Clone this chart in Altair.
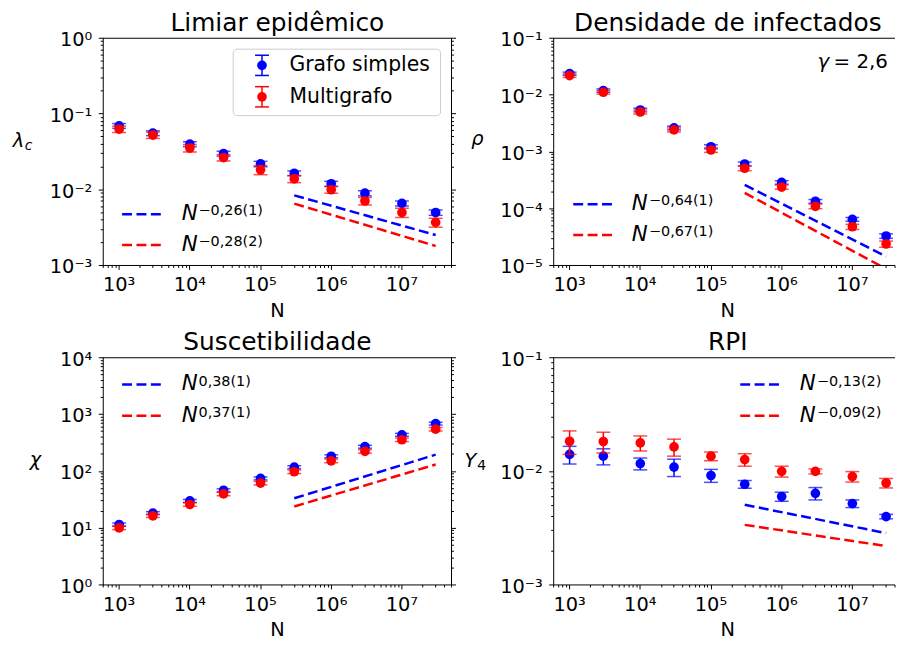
import math
import altair as alt
import pandas as pd

FONT = "DejaVu Sans"
BLUE = "#0000ff"
RED = "#ff0000"

# ---------------- data ----------------
N_values = [1e3, 3e3, 1e4, 3e4, 1e5, 3e5, 1e6, 3e6, 1e7, 3e7]
fit_N = [3e5, 3e7]

# Limiar epidêmico (lambda_c)
lam_simple = [0.0697, 0.0558, 0.0400, 0.0300, 0.0219, 0.0165, 0.0120, 0.0090, 0.0066, 0.0050]
lam_simple_err = [0.005, 0.004, 0.003, 0.0022, 0.0018, 0.0012, 0.0009, 0.0007, 0.0005, 0.0004]
lam_multi = [0.0630, 0.0526, 0.0355, 0.0265, 0.0183, 0.0139, 0.0100, 0.0071, 0.0050, 0.0037]
lam_multi_err = [0.006, 0.005, 0.004, 0.0025, 0.0025, 0.0015, 0.001, 0.0008, 0.0007, 0.0005]
lam_fit_simple = [0.00843, 0.00252]
lam_fit_multi = [0.00655, 0.00181]

# Densidade de infectados (rho)
rho_simple = [0.0238, 0.0120, 0.00546, 0.00264, 0.00123, 0.000612, 0.00029, 0.000135, 6.5e-5, 3.3e-5]
rho_simple_err = [0.0015, 0.0008, 0.0004, 0.0002, 0.0001, 0.00005, 0.00002, 0.00001, 5e-6, 3e-6]
rho_multi = [0.0220, 0.0112, 0.00504, 0.00244, 0.00108, 0.000515, 0.00024, 0.00011, 4.8e-5, 2.39e-5]
rho_multi_err = [0.0015, 0.0008, 0.0004, 0.0002, 0.0001, 0.00005, 0.00002, 0.00001, 5e-6, 3e-6]
rho_fit_simple = [2.63e-4, 1.44e-5]
rho_fit_multi = [1.9e-4, 8.7e-6]

# Suscetibilidade (chi)
chi_simple = [11.6, 18.4, 30.2, 46.4, 75.2, 118.5, 184.5, 272, 440, 693]
chi_simple_err = [0.7, 1.1, 1.8, 2.8, 4.5, 7, 11, 16, 26, 40]
chi_multi = [10.1, 16.5, 26.1, 40.0, 62.2, 98.4, 153, 225, 360, 553]
chi_multi_err = [0.7, 1.1, 1.8, 2.8, 4.5, 7, 11, 16, 26, 40]
chi_fit_simple = [33.6, 197]
chi_fit_multi = [24.1, 132]

# RPI (Y_4)
y4_simple = [0.0141, 0.0136, 0.0117, 0.0109, 0.0092, 0.0077, 0.0060, 0.0064, 0.0052, 0.0040]
y4_simple_err = [0.0025, 0.0022, 0.0014, 0.0019, 0.0012, 0.0006, 0.00055, 0.0008, 0.0004, 0.00018]
y4_multi = [0.0184, 0.0183, 0.0178, 0.0164, 0.0136, 0.0127, 0.0100, 0.0100, 0.0090, 0.0079]
y4_multi_err = [0.0043, 0.0038, 0.0027, 0.0028, 0.0012, 0.0016, 0.0011, 0.0005, 0.00095, 0.00076]
y4_fit_simple = [0.00508, 0.00286]
y4_fit_multi = [0.00338, 0.0022]

titles = ["Limiar epidêmico", "Densidade de infectados", "Suscetibilidade", "RPI"]
legend_series = ["Grafo simples", "Multigrafo"]
fit_labels = [("−0,26(1)", "−0,28(2)"), ("−0,64(1)", "−0,67(1)"),
              ("0,38(1)", "0,37(1)"), ("−0,13(2)", "−0,09(2)")]
gamma_text = "= 2,6"

# ---------------- helpers ----------------
SUP = str.maketrans("0123456789-", "⁰¹²³⁴⁵⁶⁷⁸⁹⁻")
one = pd.DataFrame({"k": [0]})
H = 229
XLO = 2.775
PX_PER_DEC = 351 / (7.7014 - XLO)


def pow_expr(exps):
    parts = [f"round(log(datum.value)/LN10) == {e} ? '10{str(e).translate(SUP)}'" for e in exps]
    return " : ".join(parts) + " : ''"


def minors(lo, hi):
    out = []
    for k in range(lo - 1, hi + 1):
        for m in range(2, 10):
            v = m * 10.0 ** k
            lv = math.log10(v)
            if lo - 1e-9 <= lv <= hi + 1e-9:
                out.append(v)
    return out


def txt(text, x, y, size, italic=False, align="left", baseline="alphabetic", color="black"):
    return alt.Chart(one).mark_text(
        text=text, font=FONT, fontSize=size, fontStyle="italic" if italic else "normal",
        align=align, baseline=baseline, color=color
    ).encode(x=alt.value(x), y=alt.value(y))


def hrule(x1, x2, y, color, dash=None, width=2.5):
    kw = dict(color=color, strokeWidth=width)
    if dash:
        kw["strokeDash"] = dash
    return alt.Chart(one).mark_rule(**kw).encode(x=alt.value(x1), x2=alt.value(x2), y=alt.value(y))


def vrule(x, y1, y2, color, width=1.5):
    return alt.Chart(one).mark_rule(color=color, strokeWidth=width).encode(
        x=alt.value(x), y=alt.value(y1), y2=alt.value(y2))


def make_panel(idx, simple, s_err, multi, m_err, fit_s, fit_m, ylo, yhi, width, extra):
    left_col = idx % 2 == 0
    xhi = XLO + width / PX_PER_DEC
    xs = alt.Scale(type="log", domain=[10 ** XLO, 10 ** xhi], nice=False)
    ys = alt.Scale(type="log", domain=[10.0 ** ylo, 10.0 ** yhi], nice=False)
    xmaj = [10.0 ** k for k in range(3, 8)]
    xmin = [v for v in minors(2, 8) if XLO <= math.log10(v) <= xhi]
    ymaj = [10.0 ** k for k in range(ylo, yhi + 1)]
    ymin = minors(ylo, yhi)

    common = dict(domain=False, grid=False, title=None, tickColor="black", tickWidth=1,
                  translate=0)
    ax_x_major = alt.Axis(values=xmaj, labelExpr=pow_expr(range(3, 8)), orient="bottom",
                          tickSize=4.5, labelPadding=6.5, labelFontSize=19.5, labelFont=FONT,
                          labelColor="black", labelOverlap=False, labelFlush=False,
                          labelBound=False, **common)
    ax_x_minor = alt.Axis(values=xmin, labels=False, orient="bottom", tickSize=2.5, **common)
    ax_y_major = alt.Axis(values=ymaj, labelExpr=pow_expr(range(ylo, yhi + 1)), orient="left",
                          tickSize=4.5, labelPadding=6.5, labelFontSize=19.5, labelFont=FONT,
                          labelColor="black", labelOverlap=False, labelFlush=False,
                          labelBound=False, labelOffset=2, **common)
    ax_y_minor = alt.Axis(values=ymin, labels=False, orient="left", tickSize=2.5, **common)
    ax_y_major_r = alt.Axis(values=ymaj, labels=False, orient="right", tickSize=4.5, **common)
    ax_y_minor_r = alt.Axis(values=ymin, labels=False, orient="right", tickSize=2.5, **common)

    def frame(vals, errs):
        return pd.DataFrame({"N": N_values, "v": vals,
                             "lo": [v - e for v, e in zip(vals, errs)],
                             "hi": [v + e for v, e in zip(vals, errs)]})

    df_s = frame(simple, s_err)
    df_m = frame(multi, m_err)
    layers = []
    for df, color, first in [(df_s, BLUE, True), (df_m, RED, False)]:
        b = alt.Chart(df)
        layers.append(b.mark_rule(color=color, strokeWidth=1.5).encode(
            x=alt.X("N:Q", scale=xs, axis=ax_x_major if first else None),
            y=alt.Y("lo:Q", scale=ys, axis=ax_y_major if first else None), y2="hi:Q"))
        layers.append(b.mark_tick(color=color, orient="horizontal", size=14, thickness=1.5).encode(
            x=alt.X("N:Q", scale=xs, axis=ax_x_minor if first else None),
            y=alt.Y("lo:Q", scale=ys, axis=ax_y_minor if first else None)))
        layers.append(b.mark_tick(color=color, orient="horizontal", size=14, thickness=1.5).encode(
            x=alt.X("N:Q", scale=xs, axis=None),
            y=alt.Y("hi:Q", scale=ys, axis=(ax_y_major_r if first and left_col else None))))
        layers.append(b.mark_circle(color=color, size=95, opacity=1).encode(
            x=alt.X("N:Q", scale=xs, axis=None),
            y=alt.Y("v:Q", scale=ys, axis=(ax_y_minor_r if first and left_col else None))))
    for vals, color in [(fit_s, BLUE), (fit_m, RED)]:
        layers.append(alt.Chart(pd.DataFrame({"N": fit_N, "v": vals})).mark_line(
            color=color, strokeDash=[10, 4.5], strokeWidth=2.5, clip=True).encode(
            x=alt.X("N:Q", scale=xs, axis=None), y=alt.Y("v:Q", scale=ys, axis=None)))
    # spines (right one only where it is visible)
    layers.append(hrule(-0.5, width + (0.5 if left_col else 0), 0, "black", width=1))
    layers.append(hrule(-0.5, width + (0.5 if left_col else 0), H, "black", width=1))
    layers.append(vrule(0, 0, H, "black", width=1))
    if left_col:
        layers.append(vrule(width, 0, H, "black", width=1))
    # title and x axis label
    layers.append(txt(titles[idx], 175.5, -7.5, 25, align="center"))
    layers.append(txt("N", 175.5, H + 51.5, 19.5, align="center"))
    layers.extend(extra)
    return alt.layer(*layers).resolve_axis(x="independent", y="independent").properties(
        width=width, height=H)


def fit_legend(x0, y1, y2, labels, nx, supx, n_dy=6, sup_dy=1):
    out = []
    for y, color, lab in [(y1, BLUE, labels[0]), (y2, RED, labels[1])]:
        out.append(hrule(x0, x0 + 40, y, color, dash=[10, 4.5]))
        out.append(txt("N", nx, y + n_dy, 21.5, italic=True))
        out.append(txt(lab, supx, y + sup_dy, 14.5))
    return out


# panel 1 extras: anchor (fixes the page offset), legend box, series legend, fit legend, y label
extra1 = [
    alt.Chart(one).mark_rule(color="white", strokeWidth=1).encode(
        x=alt.value(-95.5), x2=alt.value(-94.5), y=alt.value(-26.5)),
    alt.Chart(one).mark_rect(cornerRadius=4, fill="white", fillOpacity=0.8,
                             stroke="#cccccc", strokeWidth=1).encode(
        x=alt.value(131), x2=alt.value(340), y=alt.value(11), y2=alt.value(78)),
]
for yc, color, lab in [(27.3, BLUE, legend_series[0]), (59, RED, legend_series[1])]:
    extra1 += [
        vrule(160, yc - 10.2, yc + 10.2, color),
        hrule(153, 167, yc - 10.2, color, width=1.5),
        hrule(153, 167, yc + 10.2, color, width=1.5),
        alt.Chart(one).mark_circle(color=color, size=95, opacity=1).encode(
            x=alt.value(160), y=alt.value(yc)),
        txt(lab, 187.7, yc, 20.5, baseline="middle"),
    ]
extra1 += fit_legend(19, 177.3, 208.3, fit_labels[0], 79, 96)
extra1 += [txt("λ", -91.3, 110, 19.5, italic=True), txt("c", -79, 112.7, 14, italic=True)]

extra2 = fit_legend(19.7, 167.3, 198.3, fit_labels[1], 78.7, 96)
extra2 += [txt("ρ", -83, 108, 19.5, italic=True),
           txt("γ", 266, 30, 20, italic=True), txt(gamma_text, 282, 30, 20)]

extra3 = fit_legend(19, 27, 58.4, fit_labels[2], 79, 96)
extra3 += [txt("χ", -74, 109, 19.5, italic=True)]

extra4 = fit_legend(188, 27, 58.4, fit_labels[3], 248, 265.3)
extra4 += [txt("Y", -90, 110, 19.5, italic=True), txt("4", -77, 112.7, 14)]

p1 = make_panel(0, lam_simple, lam_simple_err, lam_multi, lam_multi_err,
                lam_fit_simple, lam_fit_multi, -3, 0, 351, extra1)
p2 = make_panel(1, rho_simple, rho_simple_err, rho_multi, rho_multi_err,
                rho_fit_simple, rho_fit_multi, -5, -1, 344, extra2)
p3 = make_panel(2, chi_simple, chi_simple_err, chi_multi, chi_multi_err,
                chi_fit_simple, chi_fit_multi, 0, 4, 351, extra3)
p4 = make_panel(3, y4_simple, y4_simple_err, y4_multi, y4_multi_err,
                y4_fit_simple, y4_fit_multi, -3, -1, 344, extra4)

chart = alt.concat(p1, p2, p3, p4, columns=2, spacing={"row": 93, "column": 103},
                   bounds="flush").properties(padding=0).configure(
    font=FONT).configure_view(stroke=None)

chart.save("out.html", embed_options={"renderer": "svg", "actions": False})
